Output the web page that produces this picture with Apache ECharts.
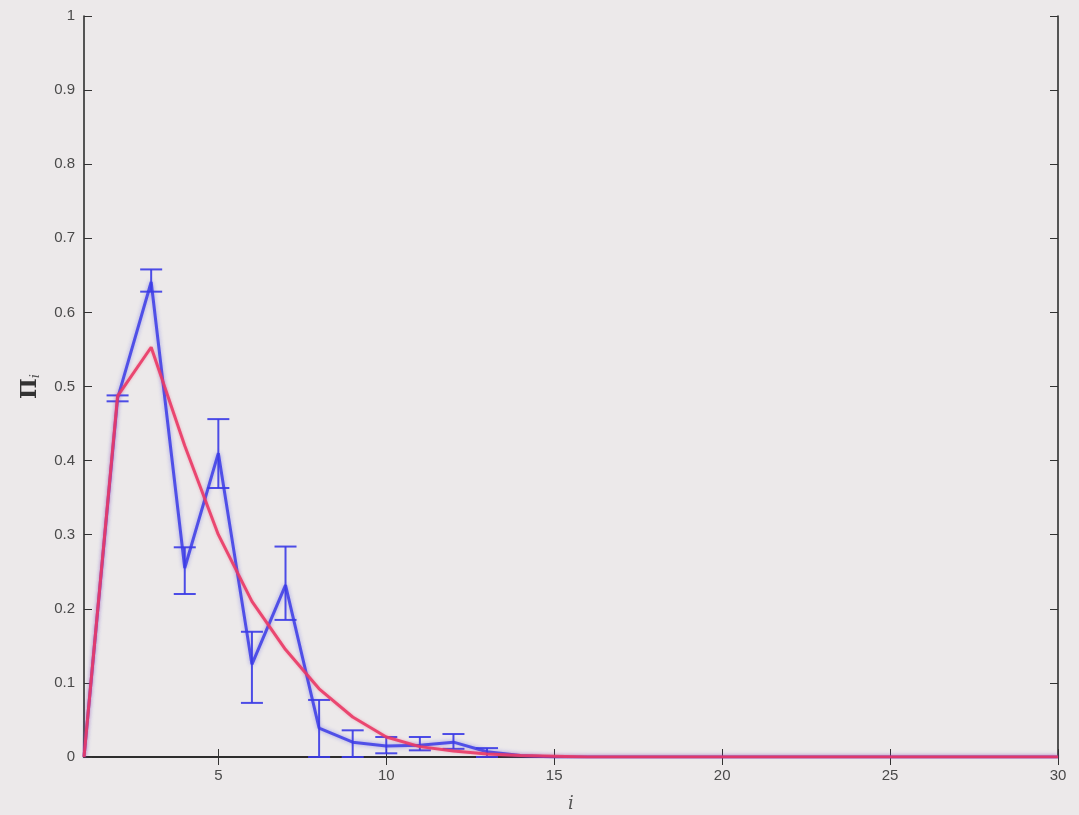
<!DOCTYPE html>
<html>
<head>
<meta charset="utf-8">
<script src="https://cdn.jsdelivr.net/npm/echarts@6/dist/echarts.min.js"></script>
<style>
html,body{margin:0;padding:0;background:#ece9ea;}
#c{width:1079px;height:815px;}
</style>
</head>
<body>
<div id="c"></div>
<script>
const iValues = [1,2,3,4,5,6,7,8,9,10,11,12,13,14,15,16,17,18,19,20,21,22,23,24,25,26,27,28,29,30];
const observed = [0,0.484,0.641,0.255,0.41,0.125,0.232,0.039,0.02,0.015,0.016,0.02,0.007,0.002,0,0,0,0,0,0,0,0,0,0,0,0,0,0,0,0];
const fitted = [0,0.487,0.553,0.42,0.30,0.21,0.145,0.092,0.054,0.027,0.014,0.008,0.004,0.002,0.001,0,0,0,0,0,0,0,0,0,0,0,0,0,0,0];
const errI = [2,3,4,5,6,7,8,9,10,11,12,13];
const errLow = [0.480,0.628,0.220,0.363,0.073,0.185,0,0,0.005,0.009,0.011,0];
const errHigh = [0.488,0.658,0.283,0.456,0.169,0.284,0.077,0.036,0.027,0.027,0.031,0.012];
const xTicks = [5,10,15,20,25,30];
const yTicks = [0,0.1,0.2,0.3,0.4,0.5,0.6,0.7,0.8,0.9,1];

const blue = '#3b3be6';
const red = '#ea3a66';
const chart = echarts.init(document.getElementById('c'), null, {renderer:'canvas'});
const lblStyle = {color:'#4a4a4a', fontSize:15, fontFamily:'Liberation Sans'};
const frame = {show:true, lineStyle:{color:'#222', width:1.5}};
chart.setOption({
  backgroundColor:'#ece9ea',
  animation:false,
  grid:{left:84, right:21, top:16, bottom:58, containLabel:false, outerBoundsMode:'none'},
  xAxis:[{
    type:'value', min:1, max:30,
    axisLine:frame,
    axisTick:{show:true, inside:true, length:8, customValues:xTicks, lineStyle:{color:'#333'}},
    axisLabel:{...lblStyle, customValues:xTicks, margin:11},
    splitLine:{show:false},
    name:'i', nameLocation:'middle', nameGap:38,
    nameTextStyle:{fontFamily:'DejaVu Serif', fontStyle:'italic', fontSize:18, color:'#555'}
  },{
    type:'value', min:1, max:30, position:'top',
    axisLine:frame,
    axisTick:{show:true, inside:true, length:8, customValues:xTicks, lineStyle:{color:'#333'}},
    axisLabel:{show:false}, splitLine:{show:false}
  }],
  yAxis:[{
    type:'value', min:0, max:1, interval:0.1,
    axisLine:frame,
    axisTick:{show:true, inside:true, length:8, lineStyle:{color:'#333'}},
    axisLabel:{...lblStyle, margin:9, formatter:v=>String(Math.round(v*10)/10)},
    splitLine:{show:false},
    name:'{p|Π}{s|i}', nameLocation:'middle', nameGap:42, nameRotate:90,
    nameTextStyle:{rich:{
      p:{fontFamily:'DejaVu Serif', fontSize:22, fontWeight:'bold', color:'#333'},
      s:{fontFamily:'DejaVu Serif', fontStyle:'italic', fontSize:13, color:'#555', verticalAlign:'bottom', padding:[10,0,0,0]}
    }}
  },{
    type:'value', min:0, max:1, interval:0.1, position:'right',
    axisLine:frame,
    axisTick:{show:true, inside:true, length:8, lineStyle:{color:'#333'}},
    axisLabel:{show:false}, splitLine:{show:false}
  }],
  series:[
    {
      type:'custom',
      data: errI.map((x,k)=>[x, errLow[k], errHigh[k]]),
      renderItem:function(params, api){
        const x = api.value(0);
        const lo = api.coord([x, api.value(1)]);
        const hi = api.coord([x, api.value(2)]);
        const hw = 11;
        const st = {stroke:blue, lineWidth:2, opacity:0.9};
        return {type:'group', children:[
          {type:'line', shape:{x1:lo[0], y1:lo[1], x2:hi[0], y2:hi[1]}, style:st},
          {type:'line', shape:{x1:lo[0]-hw, y1:lo[1], x2:lo[0]+hw, y2:lo[1]}, style:st},
          {type:'line', shape:{x1:hi[0]-hw, y1:hi[1], x2:hi[0]+hw, y2:hi[1]}, style:st}
        ]};
      },
      z:3
    },
    {
      type:'line', data: iValues.map((x,k)=>[x, observed[k]]),
      showSymbol:false, lineStyle:{color:blue, width:3, opacity:0.85, shadowColor:'rgba(60,60,230,0.5)', shadowBlur:4},
      z:4
    },
    {
      type:'line', data: iValues.map((x,k)=>[x, fitted[k]]),
      showSymbol:false, smooth:false, lineStyle:{color:red, width:3, opacity:0.9, shadowColor:'rgba(234,58,102,0.4)', shadowBlur:3},
      z:5
    }
  ]
});
</script>
</body>
</html>
